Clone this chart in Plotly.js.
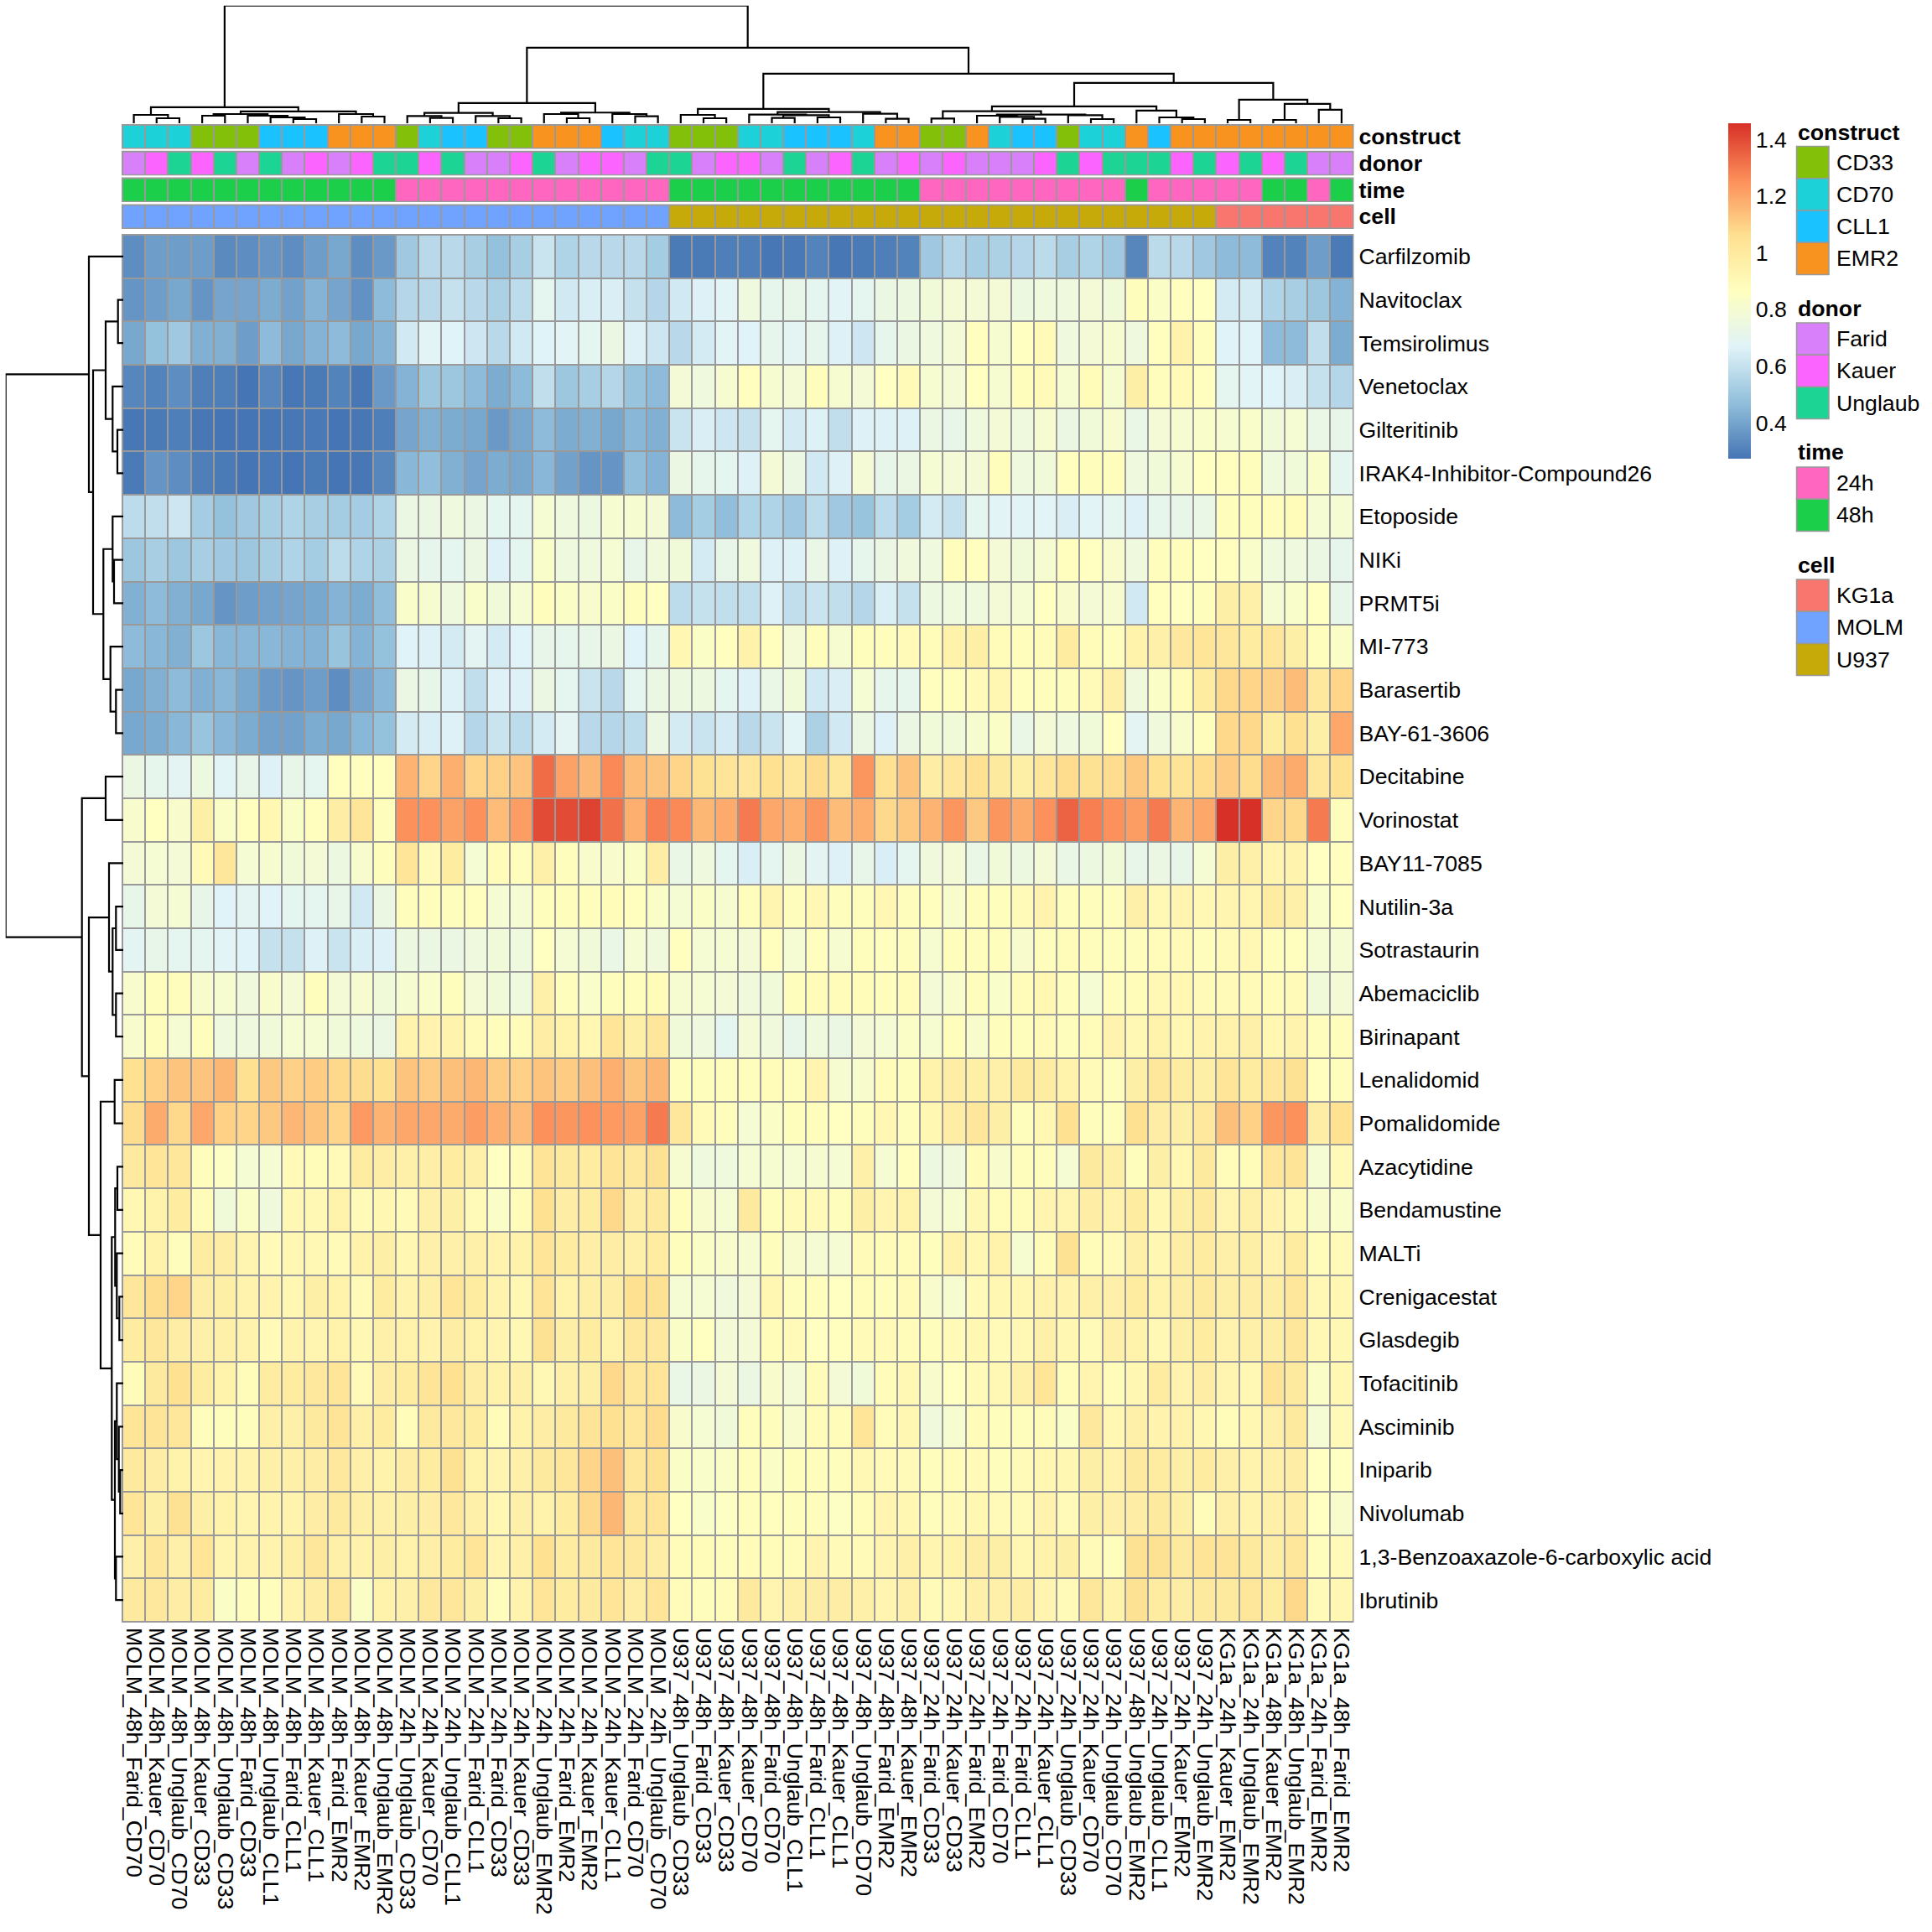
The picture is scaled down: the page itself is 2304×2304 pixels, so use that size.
<!DOCTYPE html>
<html><head><meta charset="utf-8">
<script src="https://cdn.plot.ly/plotly-3.0.1.min.js"></script>
<style>html,body{margin:0;padding:0;background:#fff}#chart{width:2304px;height:2304px}</style>
</head><body><div id="chart"></div>
<script>
// ---------------- DATA ----------------
const rowNames = ["Carfilzomib","Navitoclax","Temsirolimus","Venetoclax","Gilteritinib","IRAK4-Inhibitor-Compound26","Etoposide","NIKi","PRMT5i","MI-773","Barasertib","BAY-61-3606","Decitabine","Vorinostat","BAY11-7085","Nutilin-3a","Sotrastaurin","Abemaciclib","Birinapant","Lenalidomid","Pomalidomide","Azacytidine","Bendamustine","MALTi","Crenigacestat","Glasdegib","Tofacitinib","Asciminib","Iniparib","Nivolumab","1,3-Benzoaxazole-6-carboxylic acid","Ibrutinib"];

const colNames = ["MOLM_48h_Farid_CD70","MOLM_48h_Kauer_CD70","MOLM_48h_Unglaub_CD70","MOLM_48h_Kauer_CD33","MOLM_48h_Unglaub_CD33","MOLM_48h_Farid_CD33","MOLM_48h_Unglaub_CLL1","MOLM_48h_Farid_CLL1","MOLM_48h_Kauer_CLL1","MOLM_48h_Farid_EMR2","MOLM_48h_Kauer_EMR2","MOLM_48h_Unglaub_EMR2",
"MOLM_24h_Unglaub_CD33","MOLM_24h_Kauer_CD70","MOLM_24h_Unglaub_CLL1","MOLM_24h_Farid_CLL1","MOLM_24h_Farid_CD33","MOLM_24h_Kauer_CD33","MOLM_24h_Unglaub_EMR2","MOLM_24h_Farid_EMR2","MOLM_24h_Kauer_EMR2","MOLM_24h_Kauer_CLL1","MOLM_24h_Farid_CD70","MOLM_24h_Unglaub_CD70",
"U937_48h_Unglaub_CD33","U937_48h_Farid_CD33","U937_48h_Kauer_CD33","U937_48h_Kauer_CD70","U937_48h_Farid_CD70","U937_48h_Unglaub_CLL1","U937_48h_Farid_CLL1","U937_48h_Kauer_CLL1","U937_48h_Unglaub_CD70","U937_48h_Farid_EMR2","U937_48h_Kauer_EMR2",
"U937_24h_Farid_CD33","U937_24h_Kauer_CD33","U937_24h_Farid_EMR2","U937_24h_Farid_CD70","U937_24h_Farid_CLL1","U937_24h_Kauer_CLL1","U937_24h_Unglaub_CD33","U937_24h_Kauer_CD70","U937_24h_Unglaub_CD70","U937_48h_Unglaub_EMR2","U937_24h_Unglaub_CLL1","U937_24h_Kauer_EMR2","U937_24h_Unglaub_EMR2",
"KG1a_24h_Kauer_EMR2","KG1a_24h_Unglaub_EMR2","KG1a_48h_Kauer_EMR2","KG1a_48h_Unglaub_EMR2","KG1a_24h_Farid_EMR2","KG1a_48h_Farid_EMR2"];

// one array per drug (row), values in column order above
const carfilzomib = [0.34,0.38,0.38,0.38,0.33,0.34,0.36,0.34,0.38,0.41,0.34,0.37, 0.51,0.57,0.57,0.53,0.48,0.53,0.61,0.55,0.57,0.57,0.57,0.52, 0.29,0.29,0.30,0.30,0.28,0.285,0.31,0.28,0.29,0.30,0.31, 0.51,0.56,0.53,0.54,0.56,0.575,0.53,0.55,0.51,0.32,0.575,0.57,0.51, 0.46,0.46,0.31,0.31,0.38,0.29];
const navitoclax = [0.36,0.38,0.41,0.36,0.40,0.40,0.42,0.39,0.44,0.40,0.35,0.46, 0.56,0.57,0.60,0.57,0.54,0.58,0.70,0.63,0.65,0.65,0.60,0.56, 0.63,0.66,0.68,0.76,0.71,0.72,0.70,0.68,0.70,0.74,0.75, 0.78,0.79,0.79,0.79,0.75,0.76,0.76,0.79,0.78,0.88,0.84,0.87,0.86, 0.64,0.64,0.55,0.53,0.50,0.44];
const temsirolimus = [0.41,0.48,0.51,0.43,0.43,0.38,0.46,0.41,0.44,0.46,0.41,0.44, 0.63,0.68,0.67,0.62,0.57,0.63,0.67,0.68,0.70,0.74,0.66,0.62, 0.57,0.64,0.68,0.67,0.71,0.69,0.71,0.66,0.62,0.71,0.74, 0.76,0.79,0.87,0.81,0.86,0.90,0.76,0.79,0.81,0.76,0.87,0.95,0.88, 0.67,0.67,0.46,0.46,0.59,0.42];
const venetoclax = [0.32,0.31,0.34,0.30,0.30,0.275,0.32,0.28,0.29,0.31,0.28,0.37, 0.44,0.50,0.50,0.46,0.42,0.46,0.59,0.50,0.53,0.56,0.49,0.46, 0.79,0.76,0.81,0.87,0.81,0.79,0.88,0.81,0.79,0.86,0.90, 0.81,0.79,0.86,0.81,0.88,0.90,0.81,0.89,0.81,0.97,0.88,0.90,0.87, 0.70,0.68,0.67,0.65,0.60,0.56];
const gilteritinib = [0.28,0.29,0.30,0.28,0.274,0.275,0.28,0.28,0.285,0.275,0.28,0.30, 0.40,0.43,0.42,0.41,0.37,0.41,0.46,0.42,0.43,0.41,0.45,0.43, 0.61,0.65,0.62,0.60,0.70,0.64,0.66,0.59,0.66,0.66,0.66, 0.74,0.72,0.76,0.79,0.76,0.81,0.74,0.78,0.81,0.73,0.79,0.81,0.83, 0.81,0.83,0.78,0.80,0.73,0.72];
const irak4 = [0.29,0.36,0.34,0.30,0.29,0.275,0.285,0.275,0.29,0.274,0.28,0.32, 0.45,0.47,0.43,0.40,0.42,0.41,0.45,0.39,0.36,0.36,0.47,0.44, 0.74,0.71,0.70,0.66,0.79,0.74,0.63,0.66,0.79,0.72,0.74, 0.80,0.79,0.79,0.88,0.76,0.78,0.87,0.88,0.88,0.76,0.78,0.81,0.86, 0.87,0.88,0.76,0.78,0.83,0.70];
const etoposide = [0.58,0.59,0.62,0.52,0.48,0.51,0.53,0.55,0.53,0.52,0.52,0.55, 0.74,0.74,0.76,0.74,0.70,0.70,0.80,0.76,0.75,0.81,0.81,0.79, 0.46,0.52,0.47,0.55,0.55,0.51,0.58,0.51,0.49,0.58,0.52, 0.64,0.60,0.70,0.68,0.68,0.68,0.65,0.68,0.70,0.66,0.71,0.72,0.73, 0.88,0.88,0.88,0.89,0.80,0.80];
const niki = [0.50,0.53,0.50,0.53,0.51,0.50,0.53,0.55,0.52,0.58,0.55,0.54, 0.74,0.71,0.70,0.74,0.66,0.70,0.83,0.76,0.76,0.80,0.72,0.77, 0.78,0.64,0.72,0.76,0.66,0.66,0.73,0.66,0.71,0.74,0.77, 0.76,0.88,0.87,0.79,0.78,0.81,0.87,0.86,0.82,0.76,0.88,0.88,0.86, 0.87,0.83,0.76,0.76,0.74,0.71];
const prmt5i = [0.43,0.46,0.43,0.41,0.36,0.38,0.39,0.40,0.41,0.44,0.42,0.47, 0.83,0.81,0.76,0.83,0.78,0.80,0.88,0.84,0.82,0.84,0.88,0.86, 0.58,0.60,0.59,0.59,0.66,0.59,0.61,0.59,0.56,0.65,0.60, 0.75,0.76,0.76,0.79,0.80,0.86,0.82,0.79,0.81,0.63,0.87,0.86,0.88, 0.97,0.96,0.80,0.83,0.86,0.72];
const mi773 = [0.46,0.45,0.43,0.50,0.45,0.45,0.45,0.44,0.44,0.49,0.44,0.48, 0.67,0.66,0.64,0.69,0.64,0.67,0.72,0.71,0.72,0.74,0.67,0.71, 0.92,0.84,0.87,0.95,0.87,0.79,0.88,0.81,0.88,0.88,0.90, 0.89,0.95,0.97,0.89,0.88,0.89,0.99,0.89,0.88,0.95,0.96,1.01,1.03, 1.02,0.99,1.02,0.97,0.88,0.84];
const barasertib = [0.41,0.43,0.46,0.43,0.45,0.41,0.37,0.36,0.38,0.34,0.40,0.45, 0.74,0.72,0.66,0.59,0.66,0.66,0.74,0.70,0.61,0.57,0.70,0.74, 0.75,0.75,0.70,0.66,0.73,0.78,0.63,0.65,0.80,0.71,0.71, 0.87,0.88,0.90,0.92,0.87,0.88,0.88,0.90,0.96,0.77,0.84,0.89,0.99, 1.08,1.09,1.10,1.15,1.01,1.09];
const bay613606 = [0.41,0.42,0.45,0.49,0.45,0.42,0.39,0.39,0.42,0.41,0.45,0.48, 0.64,0.65,0.66,0.56,0.61,0.58,0.64,0.69,0.57,0.56,0.58,0.74, 0.64,0.61,0.64,0.57,0.61,0.68,0.54,0.63,0.74,0.66,0.74, 0.78,0.78,0.81,0.84,0.73,0.79,0.76,0.78,0.86,0.69,0.77,0.82,0.88, 1.08,1.08,0.99,1.06,0.97,1.20];
const decitabine = [0.74,0.71,0.69,0.75,0.68,0.72,0.66,0.72,0.70,0.87,0.87,0.87, 1.17,1.09,1.18,1.09,1.10,1.13,1.33,1.21,1.16,1.27,1.15,1.13, 1.09,1.05,1.04,1.02,1.06,1.02,1.07,1.02,1.24,1.06,1.13, 0.98,1.02,1.06,1.00,0.97,1.02,1.07,1.05,1.07,1.12,1.06,1.04,1.07, 1.11,1.07,1.16,1.19,1.02,1.06];
const vorinostat = [0.82,0.86,0.82,0.97,0.84,0.87,0.92,0.84,0.87,0.98,1.03,0.88, 1.25,1.25,1.21,1.25,1.15,1.22,1.40,1.40,1.42,1.32,1.18,1.29, 1.27,1.16,1.19,1.30,1.20,1.18,1.24,1.15,1.18,1.08,1.12, 1.17,1.24,1.12,1.24,1.19,1.25,1.35,1.29,1.25,1.22,1.30,1.17,1.20, 1.458,1.458,1.09,1.08,1.30,0.88];
const bay117085 = [0.79,0.80,0.79,0.90,1.02,0.80,0.81,0.78,0.79,0.75,0.82,0.88, 1.03,0.90,0.99,0.80,0.89,0.88,0.96,0.88,0.82,0.82,0.84,0.98, 0.73,0.76,0.70,0.65,0.70,0.74,0.69,0.66,0.72,0.65,0.70, 0.77,0.79,0.73,0.78,0.75,0.79,0.73,0.75,0.78,0.72,0.74,0.72,0.80, 0.97,0.96,0.93,0.94,0.86,0.87];
const nutilin3a = [0.72,0.79,0.80,0.72,0.67,0.69,0.67,0.70,0.70,0.72,0.63,0.74, 0.88,0.88,0.88,0.87,0.80,0.80,0.88,0.88,0.88,0.89,0.87,0.84, 0.80,0.84,0.81,0.88,0.93,0.88,0.91,0.88,0.88,0.92,0.88, 0.87,0.82,0.88,0.88,0.90,0.94,0.88,0.88,0.88,0.96,0.91,0.93,0.91, 0.93,0.93,0.99,0.96,0.83,0.86];
const sotrastaurin = [0.69,0.72,0.70,0.70,0.68,0.67,0.60,0.60,0.66,0.61,0.65,0.66, 0.75,0.74,0.74,0.76,0.78,0.76,0.86,0.80,0.78,0.73,0.80,0.77, 0.87,0.80,0.80,0.79,0.87,0.80,0.87,0.81,0.88,0.87,0.88, 0.81,0.88,0.88,0.88,0.82,0.88,0.89,0.88,0.88,0.88,0.89,0.90,0.88, 0.90,0.91,0.88,0.87,0.80,0.80];
const abemaciclib = [0.82,0.88,0.88,0.82,0.81,0.77,0.82,0.79,0.88,0.79,0.81,0.78, 0.81,0.83,0.88,0.79,0.78,0.76,0.96,0.88,0.83,0.88,0.88,0.89, 0.81,0.80,0.79,0.77,0.78,0.88,0.89,0.89,0.89,0.88,0.89, 0.79,0.82,0.88,0.83,0.89,0.92,0.88,0.80,0.88,0.89,0.91,0.92,0.90, 0.90,0.90,0.89,0.90,0.78,0.79];
const birinapant = [0.82,0.88,0.80,0.88,0.76,0.76,0.78,0.80,0.80,0.78,0.76,0.74, 0.94,0.94,0.94,0.90,0.88,0.89,0.98,0.95,0.92,1.03,0.97,1.02, 0.78,0.76,0.70,0.79,0.77,0.72,0.76,0.74,0.79,0.80,0.84, 0.81,0.88,0.82,0.88,0.88,0.90,0.88,0.89,0.94,0.91,0.95,0.92,0.94, 0.95,0.96,0.92,0.94,0.88,0.88];
const lenalidomid = [1.06,1.10,1.13,1.13,1.16,1.06,1.12,1.10,1.11,1.08,1.07,1.06, 1.13,1.11,1.14,1.16,1.11,1.10,1.13,1.11,1.14,1.18,1.13,1.16, 0.88,0.88,0.88,0.88,0.89,0.88,0.93,0.81,0.82,0.89,0.88, 0.95,0.98,0.97,0.96,1.00,0.99,0.95,0.90,0.88,0.97,1.02,0.99,0.97, 1.03,0.99,1.02,1.05,0.87,0.88];
const pomalidomide = [1.07,1.19,1.08,1.20,1.10,1.09,1.12,1.16,1.13,1.09,1.23,1.17, 1.20,1.20,1.19,1.22,1.18,1.15,1.25,1.24,1.25,1.23,1.21,1.30, 1.02,0.90,0.88,0.80,0.84,0.88,0.88,0.86,0.88,0.92,0.88, 0.92,0.98,1.02,0.97,0.88,0.92,1.06,0.88,0.88,1.06,0.98,0.97,1.01, 1.14,1.10,1.24,1.25,0.98,1.06];
const azacytidine = [1.00,1.03,1.02,0.88,0.85,0.80,0.80,0.90,0.89,0.90,0.99,0.98, 0.96,0.97,0.99,0.96,0.86,0.89,1.04,1.00,0.99,1.04,1.01,1.05, 0.81,0.76,0.76,0.80,0.81,0.80,0.81,0.80,0.96,0.80,0.87, 0.75,0.77,0.89,0.82,0.88,0.88,0.80,1.00,0.97,0.88,0.97,0.92,1.00, 0.89,0.89,1.02,1.04,0.80,0.90];
const bendamustine = [0.92,0.95,0.99,0.89,0.78,0.84,0.77,0.91,0.91,0.95,0.90,0.92, 0.90,0.96,0.97,0.90,0.84,0.89,1.06,0.98,0.99,1.08,0.98,1.00, 0.88,0.82,0.80,1.00,0.88,0.90,0.90,0.88,0.97,0.93,0.95, 0.79,0.81,0.91,0.89,0.89,0.93,0.93,0.98,0.95,0.99,0.92,0.97,1.00, 0.93,0.96,0.94,0.91,0.82,0.83];
const malti = [0.89,0.95,0.88,0.99,0.98,0.93,0.90,0.92,0.91,0.90,0.95,0.97, 0.92,0.96,0.96,0.96,0.94,0.95,1.03,0.99,0.97,0.98,0.96,0.99, 0.88,0.84,0.82,0.81,0.88,0.82,0.80,0.80,0.90,0.89,0.89, 0.88,0.95,0.92,0.95,0.81,0.89,1.05,0.89,0.90,0.96,0.92,0.98,0.99, 0.96,0.97,0.94,0.99,0.89,0.90];
const crenigacestat = [1.02,1.07,1.09,0.98,0.97,0.94,0.94,0.92,0.97,0.95,0.90,0.99, 0.94,0.97,1.03,0.99,0.94,0.92,1.04,0.95,0.97,0.98,1.06,1.05, 0.80,0.80,0.77,0.79,0.92,0.88,0.88,0.86,0.89,0.88,0.90, 0.82,0.81,0.90,0.92,0.92,0.95,0.94,0.96,0.96,0.99,0.95,0.98,1.00, 0.97,0.98,0.98,1.02,0.91,0.92];
const glasdegib = [0.99,1.02,0.98,0.96,0.96,0.94,0.90,0.94,0.93,0.95,0.91,0.96, 0.95,0.94,0.98,0.95,0.93,0.91,1.05,0.97,0.99,0.95,1.01,1.01, 0.84,0.86,0.79,0.79,0.89,0.90,0.86,0.87,0.90,0.90,0.89, 0.88,0.90,0.92,0.90,0.91,0.96,0.92,0.90,0.96,0.95,0.91,0.97,0.99, 0.94,0.96,0.98,1.02,0.91,0.91];
const tofacitinib = [0.89,1.00,1.06,0.99,0.95,0.89,0.99,0.99,1.01,1.03,0.90,0.98, 0.99,1.04,1.06,0.98,0.95,0.96,0.91,0.96,0.97,1.08,1.02,1.03, 0.73,0.74,0.79,0.74,0.82,0.79,0.89,0.79,0.78,0.89,0.91, 0.82,0.86,0.90,0.91,0.96,1.03,0.89,0.93,0.89,0.92,0.99,0.94,0.98, 0.93,0.91,1.04,1.00,0.84,0.92];
const asciminib = [1.03,1.04,1.02,0.88,0.88,0.88,0.96,0.96,1.00,1.04,0.96,0.99, 0.89,1.00,1.01,0.99,0.89,0.95,0.98,1.00,1.04,1.06,1.02,1.07, 0.82,0.80,0.78,0.88,0.88,0.82,0.89,0.89,1.03,0.89,0.92, 0.77,0.81,0.89,0.88,0.88,0.89,0.84,1.01,0.92,0.96,0.94,0.95,0.92, 0.89,0.92,0.96,1.00,0.80,0.90];
const iniparib = [1.00,0.98,0.95,0.93,0.94,0.94,0.96,0.96,0.98,1.01,0.96,0.95, 0.98,0.99,1.05,0.95,0.93,0.96,1.00,1.02,1.09,1.14,1.02,1.06, 0.84,0.83,0.84,0.88,0.84,0.88,0.88,0.88,0.91,0.90,0.90, 0.88,0.89,0.90,0.88,0.90,0.92,0.92,0.97,0.95,1.00,0.99,0.97,0.99, 0.96,0.94,0.96,0.98,0.86,0.86];
const nivolumab = [1.03,0.97,1.05,0.97,0.95,0.93,0.94,0.94,0.98,1.00,0.97,0.96, 0.97,0.98,1.01,0.96,0.92,0.96,0.95,0.99,1.08,1.16,1.02,1.03, 0.86,0.83,0.85,0.88,0.87,0.88,0.88,0.85,0.89,0.93,0.92, 0.88,0.90,0.92,0.90,0.90,0.94,0.90,0.97,0.96,0.98,1.00,0.97,0.89, 0.96,0.94,0.96,0.98,0.86,0.82];
const benzoaxazole = [0.96,1.02,0.96,1.03,0.93,0.94,0.94,0.97,1.02,0.96,0.95,0.97, 0.95,0.97,0.99,1.03,0.93,0.96,1.06,0.99,1.00,1.03,1.01,0.98, 0.89,0.89,0.88,0.89,0.89,0.89,0.93,0.90,0.90,0.93,0.96, 0.93,0.95,0.98,0.97,0.92,0.95,0.97,0.90,0.88,1.05,1.05,1.00,1.04, 1.04,1.00,0.98,1.02,0.88,0.90];
const ibrutinib = [1.00,1.01,0.98,0.99,0.84,0.88,0.88,0.94,0.98,1.02,0.84,0.95, 0.96,1.01,1.02,0.97,0.88,0.94,1.03,0.99,1.00,1.03,0.98,1.03, 0.89,0.88,0.89,1.00,0.93,0.96,0.98,0.98,0.96,0.93,0.96, 0.90,0.92,0.96,0.96,0.98,0.93,0.90,1.02,0.95,1.05,0.99,0.98,1.00, 1.00,1.02,0.99,1.08,0.90,0.92];

// dendrograms: [mergeHeight, left, right]; leaves are display indices
const colTree = [140,
  [19, [10, 0, [6, 1, 2]], [14, [11, [9, 3, 4], [9, 5, [7, 6, [5, 7, 8]]]], [11, 9, [8, 10, 11]]]],
  [90,
    [24, [12.3, [8.7, 12, [6.3, 13, 14]], [8.7, 15, [6, 16, 17]]], [12.7, [11, 18, [6, 19, 20]], [11, 21, [8.3, 22, 23]]]],
    [59,
      [17, [10, 24, [6, 25, 26]], [13.3, [10.3, 27, [9.7, [6.3, 28, 29], [7, 30, 31]]], [11.3, 32, [5.3, 33, 34]]]],
      [48,
        [20, [14.3, [5.7, 35, 36], [10.3, [9, 37, [7.7, 38, [5.3, 39, 40]]], [9.7, 41, [5, 42, 43]]]], [15, 44, [7, 45, [5, 46, 47]]]],
        [28, [4, 48, 49], [23, [4, 50, 51], [16, 52, 53]]]
      ]
    ]
  ]
];
const rowTree = [140.3,
  [41, 0, [36, [21, [6.3, 1, 2], [12.7, 3, [7, 4, 5]]], [23.7, [12.7, 6, [11, 7, 8]], [15.3, 9, [8.7, 10, 11]]]]],
  [49.3, [21, 12, 13],
    [41,
      [17, 14, [12.7, [8.7, 15, 16], [8.7, 17, 18]]],
      [27, [10.3, 19, 20],
        [13.7,
          [9.7, [7, 21, 22], [7.7, 23, [4.7, 24, 25]]],
          [10, [7.7, 26, [5.3, 27, [3.7, 28, 29]]], [8.7, 30, 31]]
        ]
      ]
    ]
  ]
];

const constructLevels = ["CD33","CD70","CLL1","EMR2"];
const constructColors = ["#83C00A","#1CD1D7","#1AC2FF","#F7931E"];
const donorLevels = ["Farid","Kauer","Unglaub"];
const donorColors = ["#D87FFA","#FB64FF","#1CD594"];
const timeLevels = ["24h","48h"];
const timeColors = ["#FF66C0","#1BCF4A"];
const cellLevels = ["KG1a","MOLM","U937"];
const cellColors = ["#F8766D","#6FA3FF","#C5AA09"];

const heatColors = ["#4575B4","#91BFDB","#E0F3F8","#FFFFBF","#FEE090","#FC8D59","#D73027"];
const zMin = 0.274, zMax = 1.458;
const legendTicks = [0.4, 0.6, 0.8, 1, 1.2, 1.4];

// ---------------- BUILD ----------------
const W = 2304, H = 2304;
const fx = p => p / W;
const fy = p => 1 - p / H;
const FONT = "Liberation Sans, Arial, Helvetica, sans-serif";
const FS = 26.67;
const GRID = "#999999";

const z = [carfilzomib,navitoclax,temsirolimus,venetoclax,gilteritinib,irak4,etoposide,niki,prmt5i,mi773,barasertib,bay613606,decitabine,vorinostat,bay117085,nutilin3a,sotrastaurin,abemaciclib,birinapant,lenalidomid,pomalidomide,azacytidine,bendamustine,malti,crenigacestat,glasdegib,tofacitinib,asciminib,iniparib,nivolumab,benzoaxazole,ibrutinib];
const colIdx = colNames.map((_, i) => i);
const rowIdx = rowNames.map((_, i) => i);

// geometry (pixels)
const HM = {x0: 146, x1: 1613.5, y0: 280, y1: 1934};
const bands = [
  {name: "construct", y0: 149, y1: 176.5, levels: constructLevels, colors: constructColors, part: 3},
  {name: "donor", y0: 180.8, y1: 208.3, levels: donorLevels, colors: donorColors, part: 2},
  {name: "time", y0: 212.6, y1: 240.1, levels: timeLevels, colors: timeColors, part: 1},
  {name: "cell", y0: 244.4, y1: 271.9, levels: cellLevels, colors: cellColors, part: 0}
];

const stepScale = cols => cols.map((c, i) => [cols.length === 1 ? 0 : i / (cols.length - 1), c]);
const heatScale = heatColors.map((c, i) => [i / (heatColors.length - 1), c]);

const traces = [];
traces.push({
  type: "heatmap", z: z, x: colIdx, y: rowIdx, xaxis: "x", yaxis: "y",
  colorscale: heatScale, zmin: zMin, zmax: zMax, xgap: 2, ygap: 2, hoverinfo: "skip",
  colorbar: {
    thickness: 27, thicknessmode: "pixels", len: 399.5, lenmode: "pixels",
    x: fx(2061), xanchor: "left", xpad: 0, y: fy(346.75), yanchor: "middle", ypad: 0,
    outlinewidth: 0, tickmode: "array", tickvals: legendTicks, ticktext: legendTicks.map(String),
    ticks: "", tickfont: {family: FONT, size: FS, color: "#000"}
  }
});

const shapes = [];
const annotations = [];
// grey grid backgrounds
shapes.push({type: "rect", xref: "paper", yref: "paper", layer: "below",
  x0: fx(HM.x0 - 1), x1: fx(HM.x1 + 1), y0: fy(HM.y1 + 1), y1: fy(HM.y0 - 1),
  fillcolor: GRID, line: {width: 0}});

const layout = {
  width: W, height: H, margin: {l: 0, r: 0, t: 0, b: 0, pad: 0},
  paper_bgcolor: "#fff", plot_bgcolor: "rgba(0,0,0,0)", showlegend: false,
  font: {family: FONT, size: FS, color: "#000"},
  xaxis: {domain: [fx(HM.x0), fx(HM.x1)], range: [-0.5, colNames.length - 0.5], anchor: "y",
    tickmode: "array", tickvals: colIdx, ticktext: colNames, tickangle: 90, ticks: "",
    showgrid: false, zeroline: false, showline: false, ticklabelstandoff: 6,
    tickfont: {family: FONT, size: FS, color: "#000"}},
  yaxis: {domain: [fy(HM.y1), fy(HM.y0)], range: [rowNames.length - 0.5, -0.5], anchor: "x",
    side: "right", tickmode: "array", tickvals: rowIdx, ticktext: rowNames, ticks: "",
    showgrid: false, zeroline: false, showline: false, ticklabelstandoff: 6,
    tickfont: {family: FONT, size: FS, color: "#000"}},
  shapes: shapes, annotations: annotations
};

// annotation bands
const parts = colNames.map(n => n.split("_")); // cell, time, donor, construct
bands.forEach((b, k) => {
  const ax = "y" + (k + 2);
  const vals = parts.map(p => b.levels.indexOf(p[b.part]));
  traces.push({type: "heatmap", z: [vals], x: colIdx, y: [0], xaxis: "x", yaxis: ax,
    colorscale: stepScale(b.colors), zmin: 0, zmax: b.levels.length - 1, showscale: false,
    xgap: 2, ygap: 2, hoverinfo: "skip"});
  layout["yaxis" + (k + 2)] = {domain: [fy(b.y1), fy(b.y0)], range: [-0.5, 0.5], anchor: "x",
    side: "right", tickmode: "array", tickvals: [0], ticktext: ["<b>" + b.name + "</b>"], ticks: "",
    showgrid: false, zeroline: false, showline: false, ticklabelstandoff: 6,
    tickfont: {family: FONT, size: FS, color: "#000"}};
  shapes.push({type: "rect", xref: "paper", yref: "paper", layer: "below",
    x0: fx(HM.x0 - 1), x1: fx(HM.x1 + 1), y0: fy(b.y1 + 1), y1: fy(b.y0 - 1),
    fillcolor: GRID, line: {width: 0}});
});

// dendrograms
function walk(node, segs) {
  if (typeof node === "number") return {pos: node, h: 0};
  const a = walk(node[1], segs), b = walk(node[2], segs);
  segs.push([[a.pos, a.h], [a.pos, node[0]], [b.pos, node[0]], [b.pos, b.h]]);
  return {pos: (a.pos + b.pos) / 2, h: node[0]};
}
const colSegs = [], rowSegs = [];
walk(colTree, colSegs); walk(rowTree, rowSegs);
const cx = [], cy = [], rx = [], ry = [];
colSegs.forEach(s => { s.forEach(p => { cx.push(p[0]); cy.push(p[1]); }); cx.push(null); cy.push(null); });
rowSegs.forEach(s => { s.forEach(p => { rx.push(p[1]); ry.push(p[0]); }); rx.push(null); ry.push(null); });
traces.push({type: "scatter", mode: "lines", x: cx, y: cy, xaxis: "x", yaxis: "y6",
  line: {color: "#000", width: 2.2}, hoverinfo: "skip", cliponaxis: false});
traces.push({type: "scatter", mode: "lines", x: rx, y: ry, xaxis: "x2", yaxis: "y",
  line: {color: "#000", width: 2.2}, hoverinfo: "skip", cliponaxis: false});
layout.yaxis6 = {domain: [fy(147), fy(6.7)], range: [0, colTree[0]], anchor: "x", visible: false, fixedrange: true};
layout.xaxis2 = {domain: [fx(6.7), fx(147)], range: [rowTree[0], 0], anchor: "y", visible: false, fixedrange: true};

// categorical legends
const legendGroups = [
  {title: "construct", titleY: 157.7, top: 174.6, levels: constructLevels, colors: constructColors},
  {title: "donor", titleY: 368, top: 385, levels: donorLevels, colors: donorColors},
  {title: "time", titleY: 539, top: 557, levels: timeLevels, colors: timeColors},
  {title: "cell", titleY: 674, top: 691, levels: cellLevels, colors: cellColors}
];
const BOX = 38.2;
legendGroups.forEach(g => {
  annotations.push({xref: "paper", yref: "paper", x: fx(2142), y: fy(g.titleY), xanchor: "left", yanchor: "middle",
    text: "<b>" + g.title + "</b>", showarrow: false, font: {family: FONT, size: FS, color: "#000"}});
  g.levels.forEach((lv, i) => {
    const t = g.top + i * BOX;
    shapes.push({type: "rect", xref: "paper", yref: "paper", x0: fx(2142.5), x1: fx(2181), y0: fy(t + BOX), y1: fy(t),
      fillcolor: g.colors[i], line: {color: GRID, width: 1.5}});
    annotations.push({xref: "paper", yref: "paper", x: fx(2188), y: fy(t + BOX / 2), xanchor: "left", yanchor: "middle",
      text: lv, showarrow: false, font: {family: FONT, size: FS, color: "#000"}});
  });
});

Plotly.newPlot("chart", traces, layout, {staticPlot: true, displayModeBar: false});
</script>
</body></html>
